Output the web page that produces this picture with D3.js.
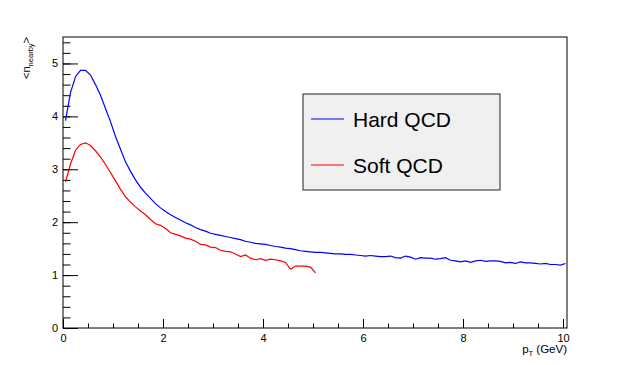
<!DOCTYPE html>
<html>
<head>
<meta charset="utf-8">
<script src="https://cdn.jsdelivr.net/npm/d3@7"></script>
<style>
  body { margin: 0; background: #ffffff; }
  text { font-family: "Liberation Sans", Arial, sans-serif; fill: #000; }
</style>
</head>
<body>
<div id="chart"></div>
<script>
// Data: <n_nearby> per pT bin (bin width 0.1 GeV, starting at 0)
const binWidth = 0.1;
const hardQCD = [
  3.92, 4.45, 4.75, 4.87, 4.87, 4.78, 4.60, 4.40, 4.15, 3.90,
  3.62, 3.38, 3.14, 2.96, 2.80, 2.66, 2.55, 2.45, 2.35, 2.27,
  2.20, 2.14, 2.09, 2.04, 1.99, 1.95, 1.90, 1.86, 1.83, 1.79,
  1.77, 1.75, 1.73, 1.71, 1.69, 1.67, 1.64, 1.62, 1.60, 1.59,
  1.58, 1.56, 1.54, 1.53, 1.51, 1.50, 1.48, 1.46, 1.45, 1.44,
  1.43, 1.43, 1.42, 1.41, 1.40, 1.40, 1.39, 1.39, 1.38, 1.37,
  1.36, 1.37, 1.36, 1.35, 1.35, 1.36, 1.33, 1.32, 1.36, 1.34,
  1.30, 1.33, 1.32, 1.32, 1.30, 1.31, 1.33, 1.28, 1.27, 1.25,
  1.27, 1.24, 1.27, 1.28, 1.26, 1.27, 1.27, 1.26, 1.23, 1.24,
  1.22, 1.25, 1.23, 1.23, 1.22, 1.21, 1.22, 1.20, 1.20, 1.19,
  1.22
];
const softQCD = [
  2.76, 3.10, 3.36, 3.47, 3.50, 3.45, 3.35, 3.23, 3.09, 2.94,
  2.78, 2.62, 2.48, 2.38, 2.29, 2.21, 2.14, 2.05, 1.97, 1.94,
  1.88, 1.80, 1.77, 1.74, 1.70, 1.68, 1.64, 1.58, 1.57, 1.53,
  1.52, 1.47, 1.45, 1.44, 1.40, 1.35, 1.38, 1.32, 1.29, 1.31,
  1.28, 1.30, 1.29, 1.27, 1.24, 1.11, 1.17, 1.17, 1.17, 1.15,
  1.04
];
const seriesNames = ["Hard QCD", "Soft QCD"];
const seriesColors = ["#0000ff", "#ff0000"];
const xMajorTicks = [0, 2, 4, 6, 8, 10];
const yMajorTicks = [0, 1, 2, 3, 4, 5];

const width = 630;
const height = 365;
const frame = { left: 63, right: 567, top: 37, bottom: 328 };

const svg = d3.select("#chart")
    .append("svg")
    .attr("width", width)
    .attr("height", height);

svg.append("rect")
    .attr("width", width)
    .attr("height", height)
    .style("fill", "#ffffff");

// Scales
const x = d3.scaleLinear()
    .domain([0, 10.08])
    .range([frame.left, frame.right]);

const y = d3.scaleLinear()
    .domain([0, 5.5])
    .range([frame.bottom, frame.top]);

// Minor ticks
const xMinor = d3.range(0, 10.01, 0.5);
const yMinor = d3.range(0, 5.5, 0.2);

svg.append("g")
    .attr("transform", `translate(0,${frame.bottom})`)
    .call(d3.axisBottom(x).tickValues(xMinor).tickSize(-4.5).tickFormat(""))
    .call(g => g.select(".domain").remove());

svg.append("g")
    .attr("transform", `translate(${frame.left},0)`)
    .call(d3.axisLeft(y).tickValues(yMinor).tickSize(-7.5).tickFormat(""))
    .call(g => g.select(".domain").remove());

// Major ticks with labels
svg.append("g")
    .attr("class", "x-axis")
    .attr("transform", `translate(0,${frame.bottom})`)
    .call(d3.axisBottom(x).tickValues(xMajorTicks).tickSize(-9).tickPadding(6).tickFormat(d3.format("d")))
    .call(g => g.select(".domain").remove())
    .call(g => g.selectAll("text").style("font-size", "11px").style("font-family", "Liberation Sans, Arial, sans-serif"));

svg.append("g")
    .attr("class", "y-axis")
    .attr("transform", `translate(${frame.left},0)`)
    .call(d3.axisLeft(y).tickValues(yMajorTicks).tickSize(-15).tickPadding(5).tickFormat(d3.format("d")))
    .call(g => g.select(".domain").remove())
    .call(g => g.selectAll("text").style("font-size", "11px").style("font-family", "Liberation Sans, Arial, sans-serif"));

// Frame
svg.append("rect")
    .attr("x", frame.left)
    .attr("y", frame.top)
    .attr("width", frame.right - frame.left)
    .attr("height", frame.bottom - frame.top)
    .style("fill", "none")
    .style("stroke", "#000")
    .style("stroke-width", 1);

// Curves
const line = d3.line()
    .x((d, i) => x((i + 0.5) * binWidth))
    .y(d => y(d));

[hardQCD, softQCD].forEach((series, k) => {
    svg.append("path")
        .datum(series)
        .attr("d", line)
        .style("fill", "none")
        .style("stroke", seriesColors[k])
        .style("stroke-width", 1.2);
});

// Axis titles
const xTitle = svg.append("text")
    .attr("x", frame.right)
    .attr("y", 353)
    .attr("text-anchor", "end")
    .style("font-size", "11.5px");
xTitle.append("tspan").text("p");
xTitle.append("tspan").attr("dy", 3).style("font-size", "7.5px").text("T");
xTitle.append("tspan").attr("dy", -3).text(" (GeV)");

const yTitle = svg.append("text")
    .attr("transform", `translate(30,${frame.top}) rotate(-90)`)
    .attr("text-anchor", "end")
    .style("font-size", "11px");
yTitle.append("tspan").text("<n");
yTitle.append("tspan").attr("dy", 3).style("font-size", "7.5px").text("nearby");
yTitle.append("tspan").attr("dy", -3).text(">");

// Legend
const legend = svg.append("g")
    .attr("class", "legend");

legend.append("rect")
    .attr("x", 303)
    .attr("y", 94)
    .attr("width", 197)
    .attr("height", 96)
    .style("fill", "#f0f0f0")
    .style("stroke", "#222")
    .style("stroke-width", 1);

const legendRows = [119, 165];
seriesNames.forEach((name, k) => {
    legend.append("line")
        .attr("x1", 311)
        .attr("x2", 344)
        .attr("y1", legendRows[k])
        .attr("y2", legendRows[k])
        .style("stroke", seriesColors[k])
        .style("stroke-width", 1);
    legend.append("text")
        .attr("x", 353)
        .attr("y", legendRows[k] + 8)
        .style("font-size", "21px")
        .text(name);
});
</script>
</body>
</html>
